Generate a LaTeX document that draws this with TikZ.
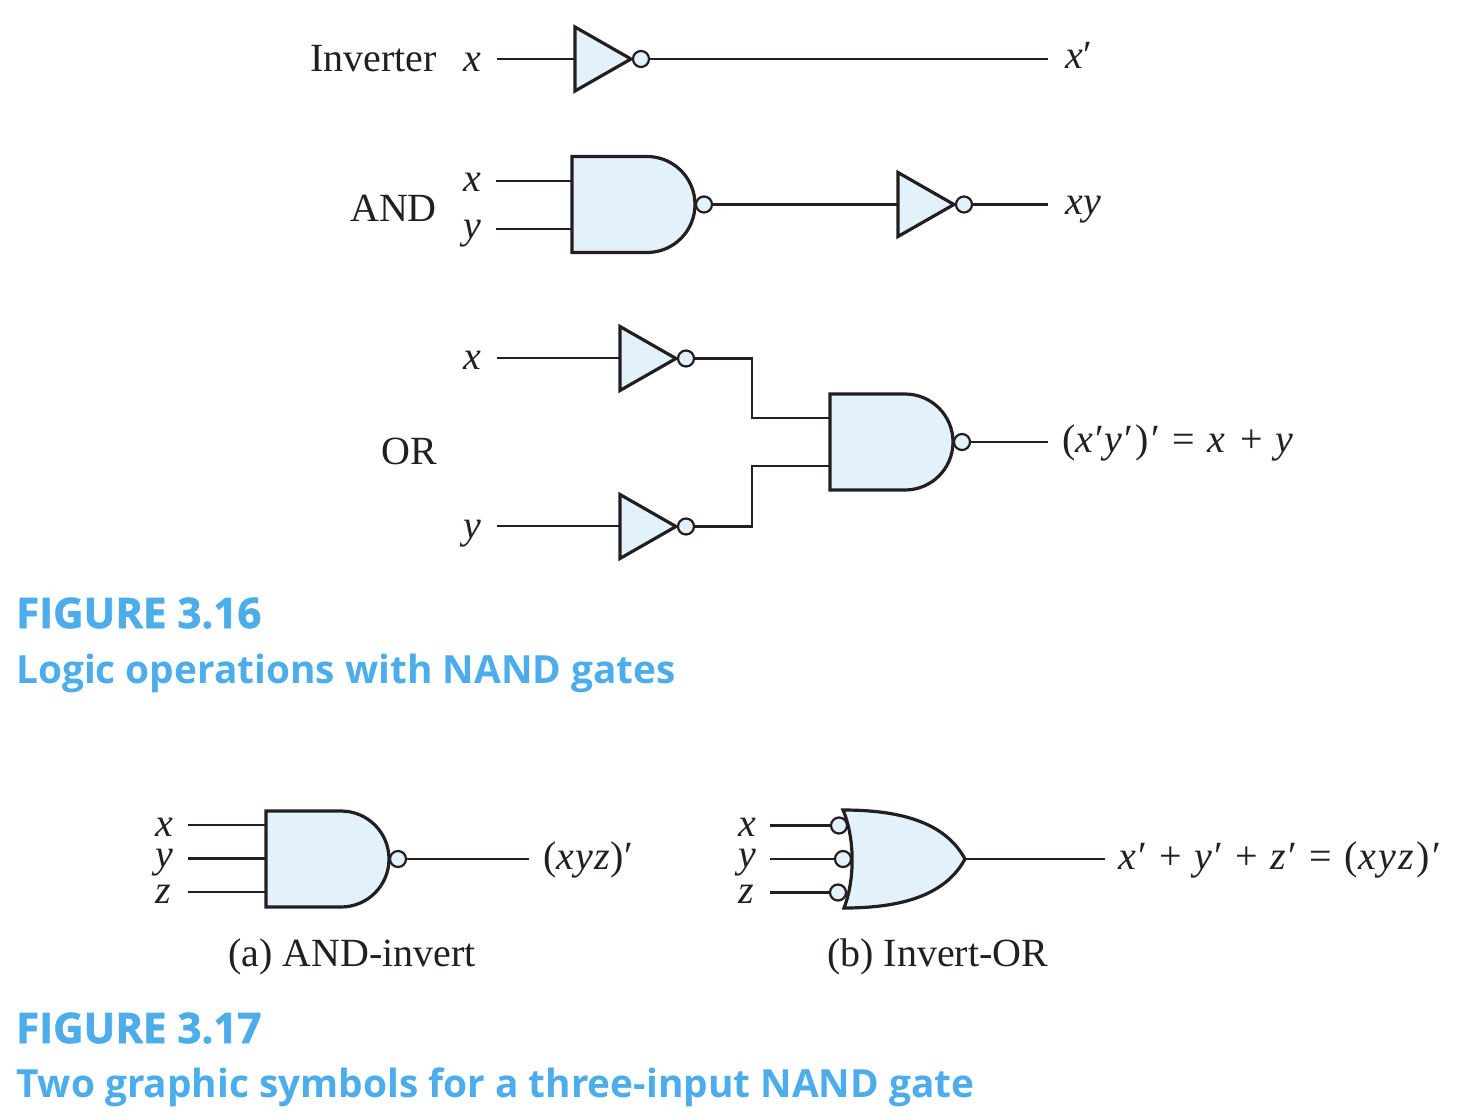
\documentclass[tikz,border=0pt]{standalone}
\usepackage{fontspec}
\setmainfont{Liberation Serif}
\newfontfamily\mathtxt[LetterSpace=6]{Liberation Serif}
\newfontfamily\mathshort[LetterSpace=2.5]{Liberation Serif}
\newfontfamily\capfont{Open Sans}
\newfontfamily\capheavy[FakeBold=1.6]{Open Sans}
\definecolor{inkc}{HTML}{231F20}
\definecolor{gatec}{HTML}{E3F1FB}
\definecolor{capc}{HTML}{4DADEB}
\newcommand{\inverter}[3]{%
  \draw[gatebody] (#2,#3-32) -- (#2+56,#3) -- (#2,#3+32) -- cycle;
  \coordinate (#1i) at (#2,#3);
  \node[bubble] (#1o) at (#2+66,#3) {};
}
\newcommand{\nandgate}[3]{%
  \node[bubble] (#1o) at (#2+132,#3) {};
  \draw[gatebody] (#2,#3-48) -- (#2+75,#3-48) arc[start angle=-90,end angle=90,radius=48] -- (#2,#3+48) -- cycle;
  \coordinate (#1l) at (#2,#3);
}
\begin{document}
\begin{tikzpicture}[x=1pt,y=-1pt,
  wire/.style={draw=inkc,line width=2.2pt},
  gatebody/.style={draw=inkc,fill=gatec,line width=3.2pt,line join=miter},
  bubble/.style={circle,draw=inkc,fill=gatec,line width=2.2pt,minimum size=16pt,inner sep=0pt},
  txt/.style={inner sep=0pt,text=inkc,font=\fontsize{40}{44}\selectfont},
  rt/.style={txt,anchor=base east},
  lt/.style={txt,anchor=base west},
  mt/.style={lt,font=\mathtxt\fontsize{40}{44}\selectfont},
  ms/.style={lt,font=\mathshort\fontsize{40}{44}\selectfont},
  capa/.style={inner sep=0pt,anchor=base west,text=capc,font=\capheavy\bfseries\fontsize{42}{46}\selectfont},
  capb/.style={inner sep=0pt,anchor=base west,text=capc,font=\capfont\bfseries\fontsize{38.8}{44}\selectfont}]
\useasboundingbox (0,0) rectangle (1464,1116);
\fill[white] (0,0) rectangle (1464,1116);
% Inverter row
\node[rt] (lInv) at (437,71.5) {Inverter};
\node[lt] (a1) at (463,71) {\textit{x}};
\node[ms] (a2) at (1065,69) {\textit{x}′};
\coordinate (a1w) at (497,59);
\coordinate (a2w) at (1048,59);
\inverter{ia}{575}{59}
\draw[wire] (a1w) -- (iai);
\draw[wire] (iao) -- (a2w);
% AND row
\node[rt] (lAnd) at (437,221) {AND};
\node[lt] (b1) at (463,191) {\textit{x}};
\node[lt] (b2) at (463,238) {\textit{y}};
\node[ms] (b3) at (1065,214) {\textit{xy}};
\coordinate (b1w) at (496,181);
\coordinate (b2w) at (496,229);
\coordinate (b3w) at (1048,204);
\nandgate{ga}{572}{204.5}
\inverter{ib}{898}{204.5}
\draw[wire] (b1w) -- (b1w -| gal);
\draw[wire] (b2w) -- (b2w -| gal);
\draw[wire] (gao) -- (ibi);
\draw[wire] (ibo) -- (b3w |- ibo);
% OR row
\node[rt] (lOr) at (437,464) {OR};
\node[lt] (c1) at (463,369) {\textit{x}};
\node[lt] (c2) at (463,538) {\textit{y}};
\node[mt] (c3) at (1062,452) {(\textit{x}′\textit{y}′)′ = \textit{x} + \textit{y}};
\coordinate (c1w) at (497,358);
\coordinate (c2w) at (497,526);
\coordinate (c3w) at (1048,442);
\coordinate (j1) at (752,418);
\coordinate (j2) at (752,466);
\inverter{ic}{620}{358.5}
\inverter{id}{620}{526.5}
\nandgate{gb}{830}{442}
\draw[wire] (c1w) -- (c1w -| ici);
\draw[wire] (c2w) -- (c2w -| idi);
\draw[wire] (ico) -| (j1) -- (j1 -| gbl);
\draw[wire] (ido) -| (j2) -- (j2 -| gbl);
\draw[wire] (gbo) -- (c3w);
% Figure 3.16 caption
\node[capa] (cap1) at (16,628) {FIGURE 3.16};
\node[capb] (cap2) at (16,683) {Logic operations with NAND gates};
% Fig 3.17 a
\node[lt] (d1) at (155,836) {\textit{x}};
\node[lt] (d2) at (155,867) {\textit{y}};
\node[lt] (d3) at (155,903) {\textit{z}};
\node[ms] (d4) at (543,869) {(\textit{xyz})′};
\node[lt] (d5) at (228,966) {(a) AND-invert};
\coordinate (d1w) at (188,825);
\coordinate (d2w) at (188,858.5);
\coordinate (d3w) at (188,892);
\coordinate (d4w) at (529,859);
\nandgate{gc}{266}{859}
\draw[wire] (d1w) -- (d1w -| gcl);
\draw[wire] (d2w) -- (d2w -| gcl);
\draw[wire] (d3w) -- (d3w -| gcl);
\draw[wire] (gco) -- (d4w);
% Fig 3.17 b
\node[lt] (e1) at (738,836) {\textit{x}};
\node[lt] (e2) at (738,867) {\textit{y}};
\node[lt] (e3) at (738,903) {\textit{z}};
\node[mt] (e4) at (1118,869) {\textit{x}′ + \textit{y}′ + \textit{z}′ = (\textit{xyz})′};
\node[lt] (e5) at (827,966) {(b) Invert-OR};
\coordinate (e1w) at (770,825.5);
\coordinate (e2w) at (770,859);
\coordinate (e3w) at (770,892.5);
\coordinate (e4w) at (1105,859);
\node[bubble] (b1o) at (839,825.5) {};
\node[bubble] (b2o) at (843,859) {};
\node[bubble] (b3o) at (838,892.5) {};
\draw[wire] (e1w) -- (b1o);
\draw[wire] (e2w) -- (b2o);
\draw[wire] (e3w) -- (b3o);
\coordinate (tip) at (965,859);
\draw[gatebody] (843,810) .. controls (900,810) and (945,822) .. (tip)
  .. controls (945,896) and (900,908) .. (844,908)
  .. controls (855,880) and (855,838) .. cycle;
\draw[wire] (tip) -- (e4w);
% Figure 3.17 caption
\node[capa] (cap3) at (16,1043) {FIGURE 3.17};
\node[capb] (cap4) at (16,1097) {Two graphic symbols for a three-input NAND gate};
\end{tikzpicture}
\end{document}
